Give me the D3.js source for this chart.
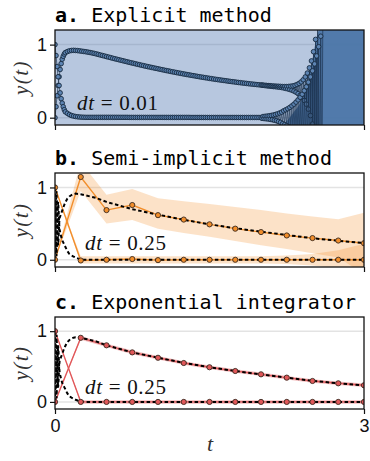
<!DOCTYPE html>
<html><head><meta charset="utf-8">
<script src="https://cdn.jsdelivr.net/npm/d3@7"></script>
<style>body{margin:0;background:#fff} svg{display:block}</style>
</head><body><svg id="c" width="370" height="461"></svg>
<script>
// ---------- DATA ----------
const xTickLabels = ["0", "3"];
const xTickValues = [0, 3];
const yTickValues = [0, 1];
const titlesKey = ["a.", "b.", "c."];
const titlesText = [" Explicit method", " Semi-implicit method", " Exponential integrator"];
const dtLabels = ["0.01", "0.25", "0.25"];

// Explicit method (dt = 0.01): time grid in three sampled stretches
const tExpl1 = d3.range(11).map(i => +(i * 0.01).toFixed(2));          // 0 .. 0.10
const tExpl2 = d3.range(95).map(i => +(0.12 + i * 0.02).toFixed(2));   // 0.12 .. 2.00
const tExpl3 = d3.range(60).map(i => +(2.01 + i * 0.01).toFixed(2));   // 2.01 .. 2.60
const explUp = [0,0.15,0.3,0.44,0.56,0.66,0.74,0.8,0.84,0.87,0.89,
 0.905,0.915,0.92,0.922,0.92,0.918,0.914,0.91,0.906,0.902,
 0.897,0.892,0.886,0.88,0.873,0.866,0.858,0.851,0.844,0.836,
 0.829,0.822,0.814,0.807,0.80,0.793,0.786,0.779,0.772,0.765,
 0.758,0.751,0.745,0.738,0.731,0.725,0.718,0.712,0.705,0.699,
 0.693,0.687,0.681,0.675,0.669,0.663,0.657,0.651,0.645,0.64,
 0.634,0.628,0.623,0.617,0.612,0.607,0.601,0.596,0.591,0.586,
 0.581,0.576,0.571,0.566,0.561,0.556,0.552,0.547,0.543,0.538,
 0.534,0.529,0.525,0.521,0.517,0.513,0.509,0.505,0.501,0.497,
 0.493,0.49,0.486,0.482,0.479,0.475,0.472,0.469,0.465,0.462,
 0.459,0.456,0.453,0.45,0.447,
 0.447,0.443,0.444,0.439,0.442,0.436,0.439,0.434,0.437,0.43,0.434,0.426,0.433,0.424,0.431,0.42,0.43,0.417,0.428,0.413,
 0.426,0.407,0.426,0.401,0.426,0.394,0.428,0.386,0.431,0.376,0.435,0.364,0.443,0.349,0.454,0.33,0.469,0.306,0.49,0.276,
 0.519,0.236,0.558,0.185,0.611,0.117,0.682,0.029,0.777,-0.087,0.903,-0.239,1.071,-0.438,1.294,-0.70];
const explDown = [1,0.85,0.7,0.56,0.44,0.34,0.26,0.2,0.15,0.11,0.08,
 0.06,0.042,0.03,0.022,0.016,0.012,0.009,0.007,0.006,0.005,
 0.005,0.005,0.005,0.005,0.005,0.005,0.005,0.005,0.005,0.005,
 0.005,0.005,0.005,0.005,0.005,0.005,0.005,0.005,0.005,0.005,
 0.004,0.004,0.004,0.004,0.004,0.004,0.004,0.004,0.004,0.004,
 0.004,0.004,0.004,0.004,0.004,0.004,0.004,0.004,0.004,0.004,
 0.004,0.004,0.004,0.004,0.004,0.004,0.004,0.004,0.004,0.004,
 0.003,0.003,0.003,0.003,0.003,0.003,0.003,0.003,0.003,0.003,
 0.003,0.003,0.003,0.003,0.003,0.003,0.003,0.003,0.003,0.003,
 0.003,0.003,0.003,0.003,0.003,0.003,0.003,0.003,0.003,0.003,
 0.003,0.003,0.003,0.003,0.003,
 -0.009,0.016,-0.012,0.019,-0.015,0.022,-0.018,0.026,-0.023,0.031,-0.028,0.037,-0.035,0.044,-0.042,0.053,-0.052,0.064,-0.064,0.076,
 -0.082,0.094,-0.095,0.108,-0.109,0.123,-0.126,0.141,-0.145,0.162,-0.167,0.185,-0.192,0.213,-0.222,0.244,-0.255,0.28,-0.294,0.321,
 -0.338,0.369,-0.389,0.423,-0.447,0.486,-0.515,0.558,-0.592,0.641,-0.681,0.736,-0.783,0.845,-0.9,0.971,-1.035,1.115,-1.19,1.283];
// explicit-method uncertainty bands
const explBandLightT = [0, 3];
const explBandLightLo = [-0.5, -0.5];
const explBandLightHi = [1.5, 1.5];
const explBandDarkT  = [2.2, 2.26, 2.32, 2.38, 2.44, 2.48, 2.51, 2.54, 2.56, 2.60, 3.0];
const explBandDarkLo = [-0.5, -0.5, -0.5, -0.5, -0.5, -0.5, -0.5, -0.5, -0.5, -0.5, -0.5];
const explBandDarkHi = [-0.1, -0.03, 0.08, 0.2, 0.42, 0.65, 0.88, 1.1, 1.2, 1.5, 1.5];

// coarse steps (dt = 0.25)
const tCoarse = [0,0.25,0.5,0.75,1,1.25,1.5,1.75,2,2.25,2.5,2.75,3];
const semiUp   = [0,1.145,0.687,0.757,0.617,0.556,0.49,0.43,0.383,0.336,0.30,0.266,0.229];
const semiDown = [1,-0.01,0,0.01,-0.005,0,0,0,0,0,0,0,0];
const semiUpLo   = [0,0.95,0.5,0.55,0.43,0.37,0.32,0.26,0.2,0.15,0.09,0.03,-0.2];
const semiUpHi   = [0,1.35,0.9,0.98,0.85,0.81,0.77,0.73,0.69,0.64,0.6,0.56,0.65];
const semiDownLo = [1,-0.05,-0.05,-0.05,-0.05,-0.05,-0.05,-0.05,-0.05,-0.06,-0.08,-0.12,-0.3];
const semiDownHi = [1,0.05,0.05,0.05,0.05,0.05,0.05,0.05,0.05,0.06,0.08,0.13,0.22];

const expoUp   = [0,0.906,0.80,0.70,0.624,0.55,0.49,0.437,0.39,0.343,0.296,0.263,0.235];
const expoDown = [1,0,0,0,0,0,0,0,0,0,0,0,0];
const expoUpLo   = [0,0.88,0.775,0.675,0.6,0.525,0.465,0.412,0.365,0.318,0.271,0.238,0.21];
const expoUpHi   = [0,0.932,0.825,0.725,0.648,0.575,0.515,0.462,0.415,0.368,0.321,0.288,0.26];
const expoDownLo = [1,-0.025,-0.025,-0.025,-0.025,-0.025,-0.025,-0.025,-0.025,-0.025,-0.025,-0.025,-0.025];
const expoDownHi = [1,0.025,0.025,0.025,0.025,0.025,0.025,0.025,0.025,0.025,0.025,0.025,0.025];

// reference (exact) solution
const tExact = [0,0.005,0.01,0.015,0.02,0.025,0.03,0.035,0.04,0.045,0.05,0.06,0.07,0.08,0.09,0.1,0.11,0.12,0.14,0.16,0.18,0.2,0.25,0.3,0.4,0.5,0.75,1.0,1.25,1.5,1.75,2.0,2.25,2.5,2.75,3.0];
const exactUp = [0,0.4,0.8,0.95,0.75,0.4,0.2,0.3,0.5,0.58,0.6,0.64,0.68,0.72,0.76,0.79,0.82,0.845,0.875,0.895,0.908,0.915,0.906,0.89,0.855,0.80,0.70,0.624,0.553,0.49,0.437,0.388,0.343,0.298,0.263,0.232];
const exactDown = [1,0.6,0.2,0.05,0.25,0.6,0.8,0.7,0.5,0.42,0.38,0.32,0.27,0.24,0.21,0.18,0.15,0.12,0.08,0.06,0.045,0.03,0.003,0,0,0,0,0,0,0,0,0,0,0,0,0];

// ---------- DRAW ----------
const mathFont = "'Liberation Serif','DejaVu Serif',serif";
const monoFont = "'DejaVu Sans Mono',monospace";
const sansFont = "'Liberation Sans',Arial,sans-serif";

const svg = d3.select('#c');
const defs = svg.append('defs');
const x = d3.scaleLinear().domain([0, 3]).range([55, 364]);
const panels = [{top: 30, bottom: 125}, {top: 173, bottom: 267}, {top: 317, bottom: 409}];

const zip = (t, v) => v.map((d, i) => ({t: t[i], y: d})).filter(d => d.t !== undefined);
const zipBand = (t, lo, hi) => t.map((d, i) => ({t: d, lo: lo[i], hi: hi[i]}));
const tExpl = tExpl1.concat(tExpl2, tExpl3);

panels.forEach((p, i) => {
  const y = d3.scaleLinear().domain([-0.1, 1.2]).range([p.bottom, p.top]);
  const line = d3.line().x(d => x(d.t)).y(d => y(d.y));
  const area = d3.area().x(d => x(d.t)).y0(d => y(d.lo)).y1(d => y(d.hi));
  defs.append('clipPath').attr('id', 'clip' + i).append('rect')
    .attr('x', x(0)).attr('y', p.top).attr('width', x(3) - x(0)).attr('height', p.bottom - p.top);
  const g = svg.append('g');
  const plot = g.append('g').attr('clip-path', `url(#clip${i})`);

  // grid
  plot.selectAll('line.grid').data(yTickValues).join('line')
    .attr('x1', x(0)).attr('x2', x(3)).attr('y1', d => y(d)).attr('y2', d => y(d))
    .attr('stroke', '#e3e3e3').attr('stroke-width', 1.5);

  if (i === 0) {
    plot.append('path').datum(zipBand(explBandLightT, explBandLightLo, explBandLightHi))
      .attr('d', area).attr('fill', 'rgb(76,114,176)').attr('fill-opacity', 0.4);
    plot.append('path').datum(zipBand(explBandDarkT, explBandDarkLo, explBandDarkHi))
      .attr('d', d3.area().curve(d3.curveMonotoneX).x(d => x(d.t)).y0(d => y(d.lo)).y1(d => y(d.hi)))
      .attr('fill', '#4b76a8').attr('fill-opacity', 0.95);
    [explUp, explDown].forEach(v => {
      const data = zip(tExpl, v);
      plot.append('path').datum(data).attr('d', line)
        .attr('fill', 'none').attr('stroke', '#1d3450').attr('stroke-width', 0.7);
      plot.append('g').selectAll('circle').data(data).join('circle')
        .attr('cx', d => x(d.t)).attr('cy', d => y(d.y)).attr('r', 2.3)
        .attr('fill', '#5d84b3').attr('stroke', '#172a3f').attr('stroke-width', 0.9);
    });
  } else {
    const color = i === 1 ? '#f28e2b' : '#e15759';
    const bandOp = i === 1 ? 0.26 : 0.4;
    const up = i === 1 ? semiUp : expoUp;
    const down = i === 1 ? semiDown : expoDown;
    const bands = i === 1
      ? [[semiUpLo, semiUpHi], [semiDownLo, semiDownHi]]
      : [[expoUpLo, expoUpHi], [expoDownLo, expoDownHi]];
    bands.forEach(b => {
      plot.append('path').datum(zipBand(tCoarse, b[0], b[1]))
        .attr('d', area).attr('fill', color).attr('fill-opacity', bandOp);
    });
    [up, down].forEach(v => {
      plot.append('path').datum(zip(tCoarse, v)).attr('d', line)
        .attr('fill', 'none').attr('stroke', color).attr('stroke-width', 1.4);
    });
    [exactUp, exactDown].forEach(v => {
      plot.append('path').datum(zip(tExact, v)).attr('d', line)
        .attr('fill', 'none').attr('stroke', '#000').attr('stroke-width', 2)
        .attr('stroke-dasharray', '3.5,2.5');
    });
    [up, down].forEach(v => {
      plot.append('g').selectAll('circle').data(zip(tCoarse, v)).join('circle')
        .attr('cx', d => x(d.t)).attr('cy', d => y(d.y)).attr('r', 2.6)
        .attr('fill', color).attr('stroke', '#3a2a20').attr('stroke-width', 0.9);
    });
  }

  // frame
  g.append('rect').attr('x', x(0)).attr('y', p.top).attr('width', x(3) - x(0)).attr('height', p.bottom - p.top)
    .attr('fill', 'none').attr('stroke', '#111').attr('stroke-width', 1.3);

  // y axis
  const ya = g.append('g').attr('transform', `translate(${x(0)},0)`)
    .call(d3.axisLeft(y).tickValues(yTickValues).tickFormat(d3.format('d')).tickSize(5).tickPadding(3));
  ya.select('.domain').remove();
  ya.selectAll('line').attr('stroke', '#111').attr('stroke-width', 1.2);
  ya.selectAll('text').attr('font-family', sansFont).attr('font-size', 18).attr('fill', '#111');

  // x axis
  const xa = g.append('g').attr('transform', `translate(0,${p.bottom})`)
    .call(d3.axisBottom(x).tickValues(xTickValues).tickFormat((d, k) => i === 2 ? xTickLabels[k] : '').tickSize(5).tickPadding(5));
  xa.select('.domain').remove();
  xa.selectAll('line').attr('stroke', '#111').attr('stroke-width', 1.2);
  xa.selectAll('text').attr('font-family', sansFont).attr('font-size', 18).attr('fill', '#111');

  // y label
  g.append('text').attr('transform', `translate(28,${(p.top + p.bottom) / 2}) rotate(-90)`)
    .attr('text-anchor', 'middle').attr('font-family', mathFont).attr('font-size', 21)
    .attr('font-style', 'italic').attr('letter-spacing', 1.5).attr('fill', '#333').text('y(t)');

  // title
  const tt = g.append('text').attr('x', 55).attr('y', p.top - 8)
    .attr('font-family', monoFont).attr('font-size', 20).attr('fill', '#000')
    .style('white-space', 'pre');
  tt.append('tspan').attr('font-weight', 'bold').text(titlesKey[i]);
  tt.append('tspan').text(titlesText[i]);

  // dt label
  const lx = i === 0 ? 77 : 85;
  const ly = i === 0 ? 110 : p.top + 77;
  const dl = g.append('text').attr('x', lx).attr('y', ly).attr('font-family', mathFont)
    .attr('font-size', 21).attr('fill', '#111').style('white-space', 'pre')
    .attr('textLength', 81).attr('lengthAdjust', 'spacing');
  dl.append('tspan').attr('font-style', 'italic').text('dt');
  dl.append('tspan').text(' = ' + dtLabels[i]);
});

// x label
svg.append('text').attr('x', 210).attr('y', 451).attr('text-anchor', 'middle')
  .attr('font-family', mathFont).attr('font-size', 22).attr('font-style', 'italic').attr('fill', '#333').text('t');
</script></body></html>
